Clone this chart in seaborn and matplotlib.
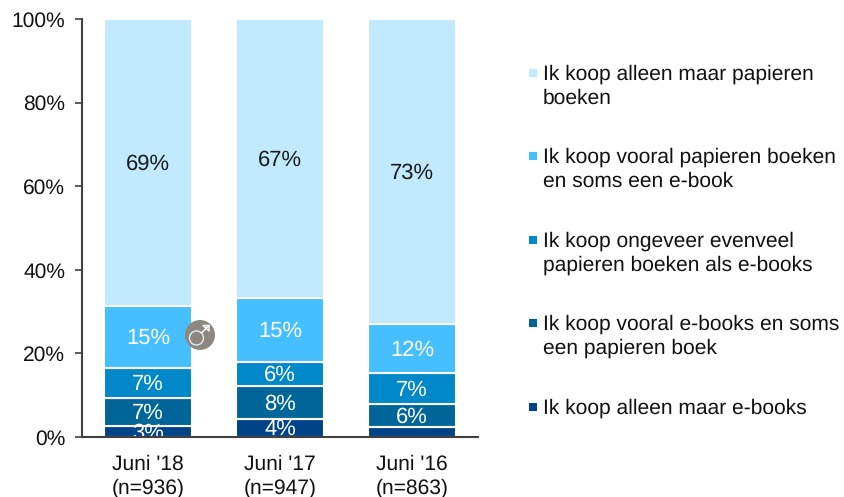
import matplotlib
matplotlib.use("Agg")
import matplotlib.pyplot as plt
from matplotlib.lines import Line2D
from matplotlib.patches import Circle, Rectangle
import numpy as np
import pandas as pd
import seaborn as sns

categories = ["Juni '18\n(n=936)", "Juni '17\n(n=947)", "Juni '16\n(n=863)"]

# bottom to top, segment heights
alleen_ebooks = [2.7, 4.2, 2.3]
vooral_ebooks = [6.7, 8.1, 5.7]
evenveel = [7.2, 5.7, 7.2]
vooral_papier = [14.8, 15.3, 11.9]
alleen_papier = [68.6, 66.7, 72.9]

# printed labels differ a bit from the heights, the last bar has no 2% label
labels_alleen_ebooks = ["3%", "4%", ""]
labels_vooral_ebooks = ["7%", "8%", "6%"]
labels_evenveel = ["7%", "6%", "7%"]
labels_vooral_papier = ["15%", "15%", "12%"]
labels_alleen_papier = ["69%", "67%", "73%"]

legend_names = [
    "Ik koop alleen maar papieren\nboeken",
    "Ik koop vooral papieren boeken\nen soms een e-book",
    "Ik koop ongeveer evenveel\npapieren boeken als e-books",
    "Ik koop vooral e-books en soms\neen papieren boek",
    "Ik koop alleen maar e-books",
]

colors = ["#004388", "#006699", "#0088C9", "#45BFFF", "#C1E9FF"]
text_colors = ["white", "white", "white", "white", "#1a1a1a"]

W, H = 844, 497


def fx(px):
    return px / W


def fy(px):
    return 1 - px / H


sns.set_theme(style="white")
plt.rcParams["font.family"] = ["Liberation Sans", "DejaVu Sans"]
plt.rcParams["text.hinting"] = "no_hinting"
plt.rcParams["text.hinting_factor"] = 1

fig = plt.figure(figsize=(W / 100, H / 100), dpi=100)
ax = fig.add_axes([fx(82), fy(437), 396 / W, 418 / H])

series = [alleen_ebooks, vooral_ebooks, evenveel, vooral_papier, alleen_papier]
series_labels = [labels_alleen_ebooks, labels_vooral_ebooks, labels_evenveel,
                 labels_vooral_papier, labels_alleen_papier]

#stack the segments one barplot at a time
bottom = np.zeros(len(categories))
for values, texts, color, text_color in zip(series, series_labels, colors, text_colors):
    df = pd.DataFrame({"period": categories, "share": values})
    sns.barplot(data=df, x="period", y="share", bottom=bottom, color=color, width=0.66,
                saturation=1, edgecolor="white", linewidth=1.5, ax=ax, zorder=1)
    for i, label in enumerate(texts):
        ax.text(i, bottom[i] + values[i] / 2 + 0.2, label, ha="center", va="center_baseline",
                color=text_color, fontsize=16, zorder=2)
    bottom = bottom + np.array(values)

ax.set_xlim(-0.5, 2.5)
ax.set_ylim(0, 100)
ax.set_xlabel("")
ax.set_ylabel("")
ax.set_yticks([0, 20, 40, 60, 80, 100])
ax.set_yticklabels(["0%", "20%", "40%", "60%", "80%", "100%"])
ax.tick_params(axis="y", left=True, length=5, width=1.2, color="#404040", pad=7,
               labelsize=15, labelcolor="#111111")
ax.tick_params(axis="x", bottom=False, pad=7, labelsize=15, labelcolor="#111111")
for tick in ax.get_xticklabels():
    tick.set_linespacing(1.25)

sns.despine(ax=ax)
for side in ["left", "bottom"]:
    ax.spines[side].set_color("#404040")
    ax.spines[side].set_linewidth(1.5)

#legend is laid out by hand, the squares sit on the first text line
legend_y = [73, 156, 240, 323, 407]
for name, color, y in zip(legend_names, colors[::-1], legend_y):
    fig.add_artist(Rectangle((fx(529), fy(y + 4)), 8 / W, 8 / H, transform=fig.transFigure,
                             facecolor=color, edgecolor="none"))
    fig.text(fx(543), fy(y - 9), name, ha="left", va="top", fontsize=15.3,
             color="#111111", linespacing=1.32)

#male marker next to the first bar, thin ring and arrow
fig.add_artist(Circle((200, H - 335), 15, transform=None, facecolor="#8E8780",
                      edgecolor="none", zorder=5))
fig.add_artist(Circle((196.5, H - 338), 7, transform=None, facecolor="none",
                      edgecolor="#D8EEF8", linewidth=1, zorder=6))
arrow_x = [201.5, 209, 209, 203, 209]
arrow_y = [333, 325.5, 331, 325.5, 325.5]
fig.add_artist(Line2D(arrow_x, [H - v for v in arrow_y], transform=None,
                      color="white", linewidth=1, zorder=6))

fig.savefig("out.png", dpi=100)
